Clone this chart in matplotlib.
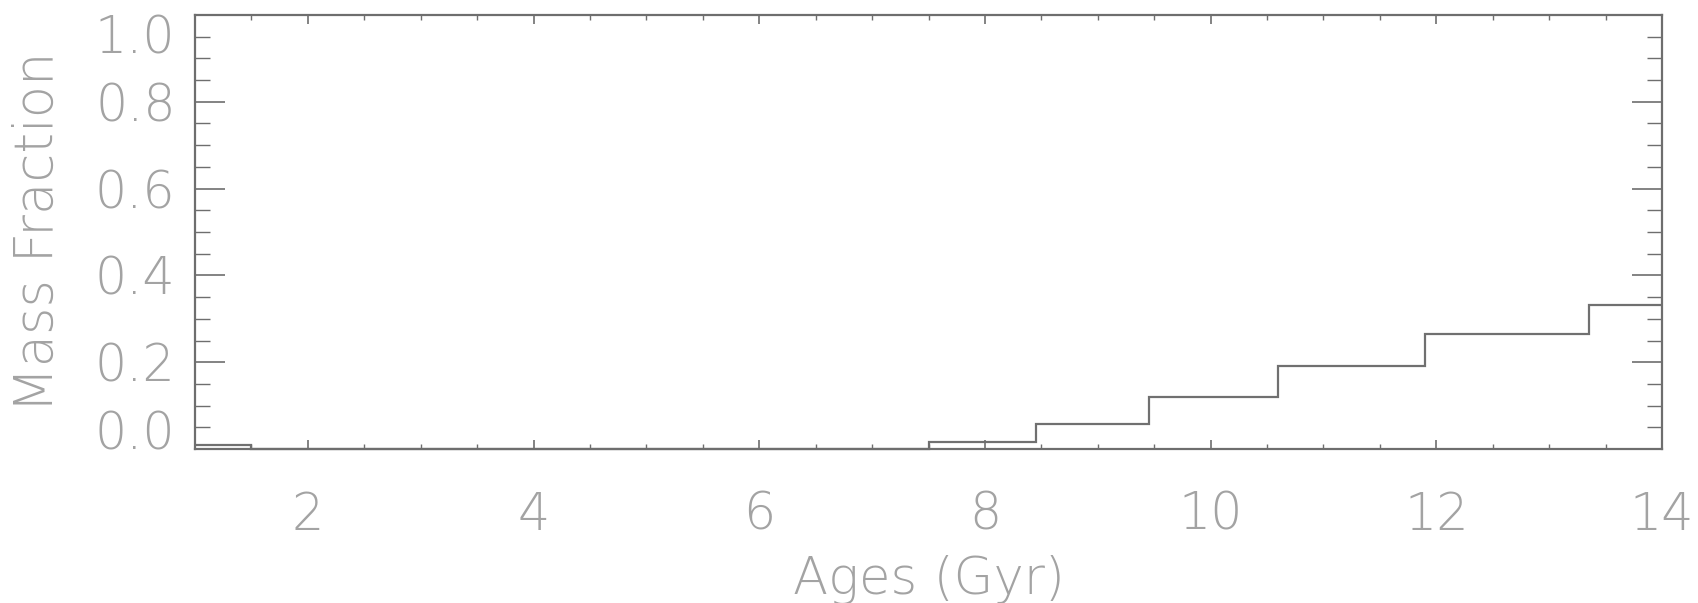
import matplotlib.pyplot as plt
import numpy as np

# age bin edges (Gyr) and mass fraction per bin
age_edges = [1.0, 1.5, 7.5, 8.45, 9.45, 10.6, 11.9, 13.35, 14.0]
mass_frac = [0.01, 0.0, 0.017, 0.058, 0.12, 0.192, 0.265, 0.332]

x_ticks = [2, 4, 6, 8, 10, 12, 14]
y_ticks = [0.0, 0.2, 0.4, 0.6, 0.8, 1.0]

text_col = '#a3a3a3'
axis_col = '#6e6e6e'
line_col = '#707070'

plt.rcParams['font.family'] = ['DejaVu Sans']
plt.rcParams['font.weight'] = 'light'

fig = plt.figure(figsize=(16.98, 6.03), dpi=100)
ax = fig.add_axes([195 / 1698, 1 - 449 / 603, 1467 / 1698, 434 / 603])

ax.stairs(mass_frac, age_edges, baseline=None, color=line_col, linewidth=1.6, clip_on=False)

ax.set_xlim(1, 14)
ax.set_ylim(0, 1)
ax.set_xticks(x_ticks)
ax.set_xticks(np.arange(1.5, 14, 0.5), minor=True)
ax.set_yticks(y_ticks)
ax.set_yticks(np.arange(0.05, 1.0, 0.05), minor=True)
ax.set_yticklabels([f'{v:.1f}' for v in y_ticks])

for s in ax.spines.values():
    s.set_color(axis_col)
    s.set_linewidth(1.6)

ax.tick_params(axis='both', which='both', direction='in', top=True, right=True,
               color=axis_col, labelcolor=text_col, labelsize=36.5)
ax.tick_params(axis='x', which='major', length=6.5, width=1.2, pad=30)
ax.tick_params(axis='x', which='minor', length=3.6, width=1.0)
ax.tick_params(axis='y', which='major', length=21.5, width=1.2, pad=14)
ax.tick_params(axis='y', which='minor', length=10.8, width=1.0)

# end labels are pulled inside the axis range
yt = ax.yaxis.get_major_ticks()
yt[0].label1.set_va('baseline')
yt[-1].label1.set_va('top')

ax.set_xlabel('Ages (Gyr)', fontsize=37, fontweight='light', color=text_col, va='center')
ax.xaxis.set_label_coords(0.5, (449 - 580) / 434)
ax.set_ylabel('Mass Fraction', fontsize=38, fontweight='light', color=text_col, va='center')
ax.yaxis.set_label_coords((38 - 195) / 1467, 0.5)

fig.savefig('out.png', dpi=100)
